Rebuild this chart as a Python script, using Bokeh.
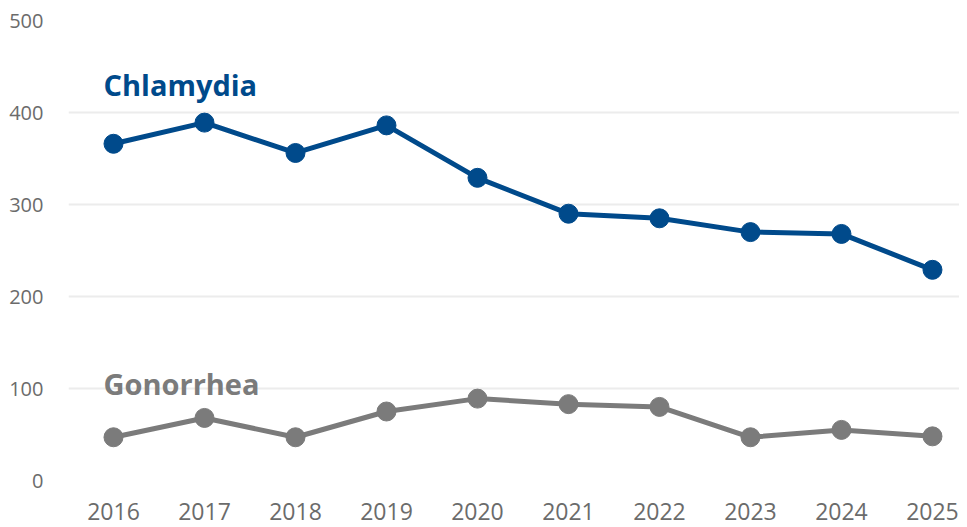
from bokeh.plotting import figure
from bokeh.models import ColumnDataSource, Range1d, FixedTicker
from bokeh.core.properties import value
from bokeh.embed import file_html
from bokeh.resources import INLINE

years = [2016, 2017, 2018, 2019, 2020, 2021, 2022, 2023, 2024, 2025]
chlamydia = [366, 389, 356, 386, 329, 290, 285, 270, 268, 229]
gonorrhea = [47, 68, 47, 75, 89, 83, 80, 47, 55, 48]
y_ticks = [0, 100, 200, 300, 400, 500]
series_names = ["Chlamydia", "Gonorrhea"]
label_y = [430, 105]

BLUE = "#004a8b"
GRAY = "#7b7b7b"

p = figure(width=959, height=527, output_backend="svg", toolbar_location=None,
           x_range=Range1d(2015.5055, 2025.297), y_range=Range1d(0, 500),
           min_border_left=68, min_border_right=0, min_border_top=20, min_border_bottom=47)
p.outline_line_color = None
p.background_fill_color = "white"
p.border_fill_color = "white"

p.xgrid.grid_line_color = None
p.ygrid.grid_line_color = "#ececec"
p.ygrid.grid_line_width = 2
p.yaxis.ticker = FixedTicker(ticks=y_ticks)
p.xaxis.ticker = FixedTicker(ticks=years)

for ax in (p.xaxis, p.yaxis):
    ax.axis_line_color = None
    ax.major_tick_line_color = None
    ax.minor_tick_line_color = None
    ax.major_tick_out = 0
    ax.major_tick_in = 0
    ax.major_label_text_font = "Open Sans"
    ax.major_label_text_color = "#6b6b6b"
p.yaxis.major_label_standoff = 25
p.yaxis.major_label_text_font_size = "20px"
p.xaxis.major_label_text_font_size = "23px"
p.xaxis.major_label_standoff = 22

src = ColumnDataSource(dict(x=years, c=chlamydia, g=gonorrhea))
p.line("x", "c", source=src, line_color=BLUE, line_width=5)
p.scatter("x", "c", source=src, size=19, fill_color=BLUE, line_color=BLUE)
p.line("x", "g", source=src, line_color=GRAY, line_width=5)
p.scatter("x", "g", source=src, size=19, fill_color=GRAY, line_color=GRAY)

lab = ColumnDataSource(dict(x=[years[0], years[0]], y=label_y, t=series_names, col=[BLUE, GRAY]))
p.text("x", "y", text="t", source=lab, text_color="col", x_offset=-10,
       text_font=value("Open Sans"), text_font_size="29px", text_font_style="bold",
       text_baseline="alphabetic", text_align="left")

open("out.html", "w").write(file_html(p, INLINE))
